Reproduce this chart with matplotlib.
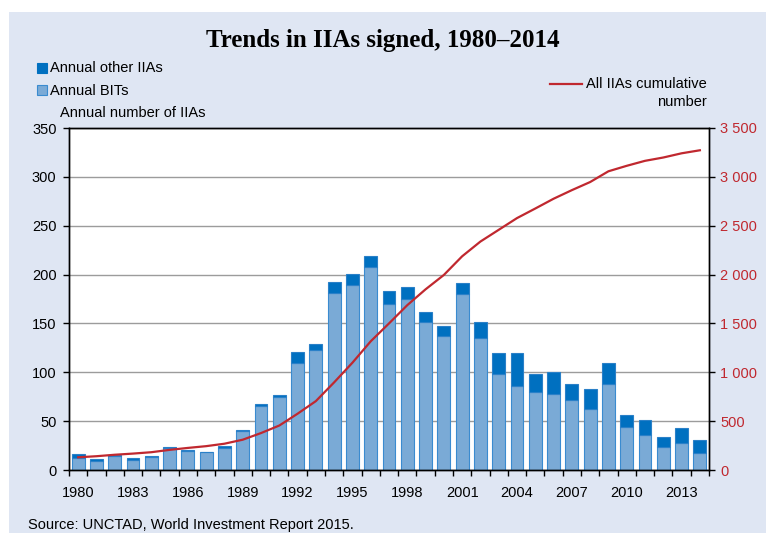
import numpy as np
import matplotlib
matplotlib.use('Agg')
import matplotlib.pyplot as plt
from matplotlib.patches import Rectangle
from matplotlib.lines import Line2D
from matplotlib.ticker import FuncFormatter

plt.rcParams['font.family'] = ['Liberation Sans', 'DejaVu Sans']

# 数据
years = list(range(1980, 2015))
bits = [12, 9, 14, 10, 13, 23, 19, 18, 23, 40, 66, 75, 110, 123, 181, 189, 208, 170,
        175, 151, 137, 180, 135, 98, 86, 80, 78, 72, 62, 88, 44, 36, 24, 28, 17]
other_iias = [4, 2, 1, 2, 1, 1, 1, 0, 2, 1, 2, 2, 11, 6, 11, 12, 11, 13,
              12, 11, 10, 11, 16, 22, 34, 18, 22, 16, 21, 22, 12, 15, 10, 15, 14]
cumulative = [130, 141, 156, 168, 182, 206, 226, 244, 269, 310, 378, 455, 576, 705,
              897, 1098, 1317, 1500, 1687, 1849, 1996, 2187, 2338, 2458, 2578, 2676,
              2776, 2864, 2947, 3057, 3113, 3164, 3198, 3241, 3272]
label_years = [1980, 1983, 1986, 1989, 1992, 1995, 1998, 2001, 2004, 2007, 2010, 2013]

W, H = 766, 533
bg = '#dfe6f3'
red = '#c0282f'

fig = plt.figure(figsize=(W / 100, H / 100), dpi=100, facecolor='white')

# 浅蓝色背景面板
fig.add_artist(Rectangle((9 / W, 0), 1, 1 - 12 / H, transform=fig.transFigure,
                         facecolor=bg, edgecolor='none', zorder=-10))

ax = fig.add_axes([69 / W, (H - 470) / H, 640 / W, 342 / H])
ax.set_facecolor('white')

x = np.arange(len(years))
ax.bar(x, bits, width=0.7, color='#7aaad6', edgecolor='#3a8bd0', linewidth=0.8, zorder=2)
ax.bar(x, other_iias, bottom=bits, width=0.7, color='#0070c0', edgecolor='#2a80c8',
       linewidth=0.8, zorder=2)

ax.set_xlim(-0.5, len(years) - 0.5)
ax.set_ylim(0, 350)
ax.set_yticks(range(0, 351, 50))
ax.yaxis.grid(True, color='#9c9c9c', linewidth=1.0)
ax.set_axisbelow(True)

# x 轴：标签在柱中心，刻度在柱间
ax.set_xticks([years.index(y) for y in label_years])
ax.set_xticklabels([str(y) for y in label_years])
ax.set_xticks(np.arange(-0.5, len(years), 1), minor=True)
ax.tick_params(axis='x', which='major', length=0, pad=11.5, labelsize=10.5)
ax.tick_params(axis='x', which='minor', length=4, width=1, direction='out')
ax.tick_params(axis='y', length=4, width=1, direction='out', pad=5, labelsize=10.5)

for s in ax.spines.values():
    s.set_color('black')
    s.set_linewidth(1)

# 右轴：累计数量
ax2 = ax.twinx()
ax2.plot(x, cumulative, color=red, linewidth=1.6, zorder=3)
ax2.set_ylim(0, 3500)
ax2.set_yticks(range(0, 3501, 500))
ax2.yaxis.set_major_formatter(FuncFormatter(lambda v, p: f'{int(v):,}'.replace(',', ' ')))
ax2.tick_params(axis='y', length=4, width=1, direction='out', pad=4, labelsize=10.5,
                labelcolor=red)
for s in ax2.spines.values():
    s.set_color('black')
    s.set_linewidth(1)

# 标题和图例
fig.text(383 / W, 1 - 40 / H, 'Trends in IIAs signed, 1980–2014', ha='center', va='center',
         fontsize=18, fontweight='bold', family='Liberation Serif')

fig.add_artist(Rectangle((37 / W, 1 - 73 / H), 10 / W, 10 / H, transform=fig.transFigure,
                         facecolor='#0070c0', edgecolor='#0070c0', linewidth=0.8))
fig.text(50 / W, 1 - 68 / H, 'Annual other IIAs', ha='left', va='center', fontsize=10.5)
fig.add_artist(Rectangle((37 / W, 1 - 95 / H), 10 / W, 10 / H, transform=fig.transFigure,
                         facecolor='#7aaad6', edgecolor='#3a8bd0', linewidth=0.8))
fig.text(50 / W, 1 - 91 / H, 'Annual BITs', ha='left', va='center', fontsize=10.5)
fig.text(60 / W, 1 - 113 / H, 'Annual number of IIAs', ha='left', va='center', fontsize=10.5)

fig.add_artist(Line2D([550 / W, 582 / W], [1 - 83.5 / H, 1 - 83.5 / H],
                      transform=fig.transFigure, color=red, linewidth=1.6))
fig.text(707 / W, 1 - 83.5 / H, 'All IIAs cumulative', ha='right', va='center', fontsize=10.5)
fig.text(707 / W, 1 - 102 / H, 'number', ha='right', va='center', fontsize=10.5)

fig.text(28 / W, 1 - 525 / H, 'Source: UNCTAD, World Investment Report 2015.',
         ha='left', va='center', fontsize=10.5)

fig.savefig('out.png', dpi=100, facecolor=fig.get_facecolor())
